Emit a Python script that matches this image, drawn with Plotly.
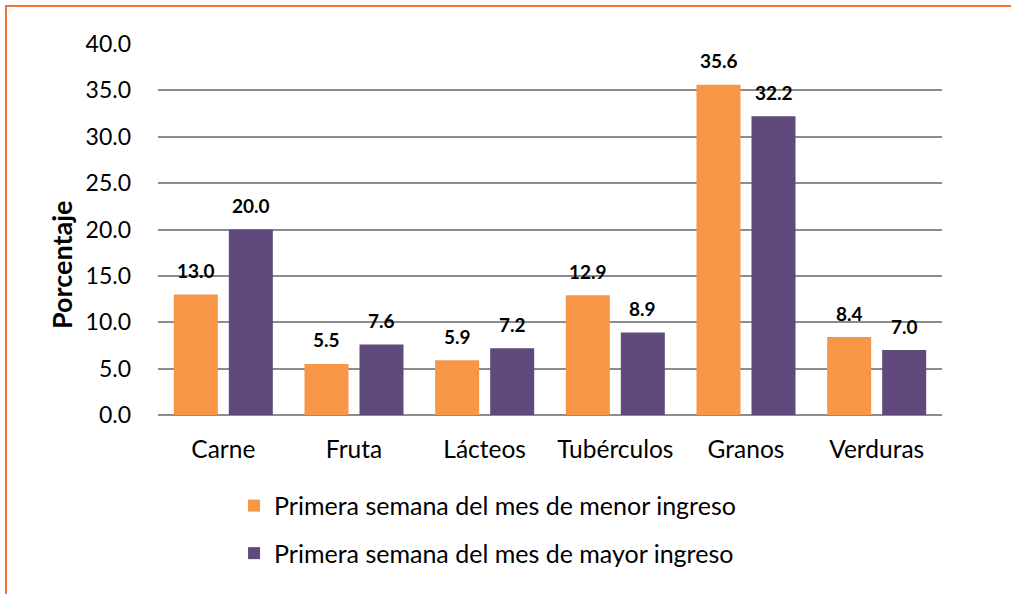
import plotly.graph_objects as go

categories = ["Carne", "Fruta", "Lácteos", "Tubérculos", "Granos", "Verduras"]
menor = [13.0, 5.5, 5.9, 12.9, 35.6, 8.4]
mayor = [20.0, 7.6, 7.2, 8.9, 32.2, 7.0]
series_names = ["Primera semana del mes de menor ingreso",
                "Primera semana del mes de mayor ingreso"]
colors = ["#F79646", "#604A7B"]
tick_vals = [0, 5, 10, 15, 20, 25, 30, 35, 40]
tick_text = [f"{v:.1f}" for v in tick_vals]
y_title = "Porcentaje"

FONT = "Lato"
BAR_HALF_SLOT = 27.5  # px offset of each bar from the category centre

fig = go.Figure()
for i, (name, vals) in enumerate(zip(series_names, [menor, mayor])):
    fig.add_trace(go.Bar(
        x=categories, y=vals, name=name,
        marker=dict(color=colors[i], line=dict(width=0)),
        legendgroup=f"g{i}",
    ))
    for cat, v in zip(categories, vals):
        fig.add_annotation(
            x=cat, y=v, xref="x", yref="y", text=f"<b>{v:.1f}</b>",
            showarrow=False, yanchor="bottom", yshift=10.5,
            xshift=(-1 if i == 0 else 1) * BAR_HALF_SLOT,
            font=dict(family=FONT, size=19, color="black"),
        )

fig.add_annotation(
    xref="paper", yref="paper", x=(61 - 158) / 784, y=(415 - 265) / 371,
    text=f"<b>{y_title}</b>", textangle=-90, showarrow=False,
    xanchor="center", yanchor="middle",
    font=dict(family=FONT, size=27, color="black"),
)

fig.update_layout(
    width=1011, height=594,
    margin=dict(l=158, r=69, t=44, b=179),
    paper_bgcolor="white", plot_bgcolor="white",
    barmode="group", bargap=0.158, bargroupgap=0.2,
    font=dict(family=FONT, size=23, color="black"),
    showlegend=True,
    legend=dict(orientation="v", x=0.097, xanchor="left", y=-0.183, yanchor="top",
                font=dict(family=FONT, size=25, color="black"),
                tracegroupgap=12, traceorder="grouped"),
    xaxis=dict(showgrid=False, showline=False, ticks="", ticklabelstandoff=17,
               tickfont=dict(family=FONT, size=24.5)),
    yaxis=dict(range=[0, 40], tickvals=tick_vals, ticktext=tick_text,
               showgrid=True, gridcolor="#8C8C8C", gridwidth=1.5,
               zeroline=True, zerolinecolor="#8C8C8C", zerolinewidth=1.5,
               ticks="", ticklabelstandoff=26,
               tickfont=dict(family=FONT, size=23)),
)

fig.add_shape(type="rect", xref="paper", yref="paper",
              x0=(6 - 158) / 784, x1=1.3, y0=-0.8, y1=(415 - 6) / 371,
              line=dict(color="#F4713C", width=2), fillcolor="rgba(0,0,0,0)", layer="below")

fig.write_html("out.html", config={"displayModeBar": False},
               post_script="document.body.style.margin='0';")
